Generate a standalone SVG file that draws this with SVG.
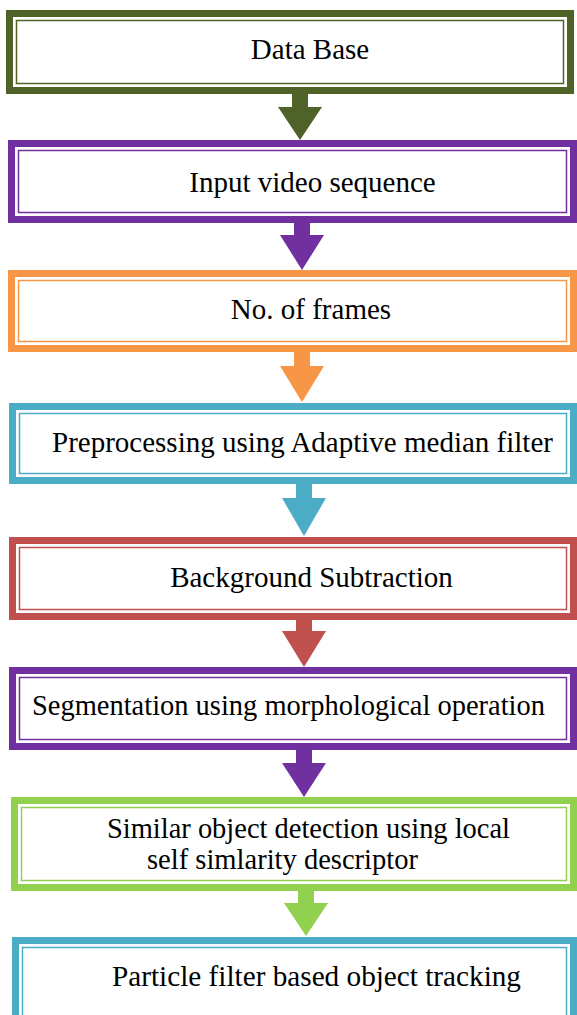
<svg xmlns="http://www.w3.org/2000/svg" width="577" height="1015" viewBox="0 0 577 1015">
  <style>
    .band { fill: none; stroke-width: 7; }
    .line { fill: #ffffff; stroke-width: 1.5; }
    .label { font-family: "Liberation Serif", "Times New Roman", serif; font-size: 29px; fill: #000000; }
    .olive { stroke: #4F6228; } .olive-f { fill: #4F6228; }
    .purple { stroke: #7030A0; } .purple-f { fill: #7030A0; }
    .orange { stroke: #F79646; } .orange-f { fill: #F79646; }
    .teal { stroke: #4BACC6; } .teal-f { fill: #4BACC6; }
    .red { stroke: #C0504D; } .red-f { fill: #C0504D; }
    .green { stroke: #92D050; } .green-f { fill: #92D050; }
  </style>
  <rect width="577" height="1015" fill="#ffffff"/>

  <!-- block arrows between the steps -->
  <g id="connectors">
    <polygon class="olive-f" points="292,94 308,94 308,107 322,107 300,140 278,107 292,107"/>
    <polygon class="purple-f" points="294,223 310,223 310,235 324,235 302,270 280,235 294,235"/>
    <polygon class="orange-f" points="294,352 310,352 310,366 324,366 302,402 280,366 294,366"/>
    <polygon class="teal-f" points="296,484 312,484 312,498 326,498 304,536 282,498 296,498"/>
    <polygon class="red-f" points="296,620 312,620 312,631 326,631 304,667 282,631 296,631"/>
    <polygon class="purple-f" points="296,750 312,750 312,763 326,763 304,797 282,763 296,763"/>
    <polygon class="green-f" points="298,891 314,891 314,903 328,903 306,936 284,903 298,903"/>
  </g>

  <g id="database">
    <rect class="line olive" x="16.5" y="20.5" width="547" height="63"/>
    <rect class="band olive" x="9.5" y="13.5" width="561" height="77"/>
    <text class="label" x="310" y="59" text-anchor="middle">Data Base</text>
  </g>

  <g id="input-video">
    <rect class="line purple" x="18.5" y="150.5" width="548" height="62"/>
    <rect class="band purple" x="11.5" y="143.5" width="562" height="76"/>
    <text class="label" x="312.5" y="192" text-anchor="middle">Input video sequence</text>
  </g>

  <g id="frames">
    <rect class="line orange" x="18.5" y="280.5" width="548" height="61"/>
    <rect class="band orange" x="11.5" y="273.5" width="562" height="75"/>
    <text class="label" x="311" y="319" text-anchor="middle">No. of frames</text>
  </g>

  <g id="preprocessing">
    <rect class="line teal" x="19.5" y="413.5" width="547" height="60"/>
    <rect class="band teal" x="12.5" y="406.5" width="561" height="74"/>
    <text class="label" x="52" y="452">Preprocessing using Adaptive median filter</text>
  </g>

  <g id="background">
    <rect class="line red" x="19.5" y="547.5" width="547" height="62"/>
    <rect class="band red" x="12.5" y="540.5" width="561" height="76"/>
    <text class="label" x="311.5" y="587" text-anchor="middle">Background Subtraction</text>
  </g>

  <g id="segmentation">
    <rect class="line purple" x="19.5" y="677.5" width="547" height="62"/>
    <rect class="band purple" x="12.5" y="670.5" width="561" height="76"/>
    <text class="label" x="32" y="715" textLength="513" lengthAdjust="spacingAndGlyphs">Segmentation using morphological operation</text>
  </g>

  <g id="detection">
    <rect class="line green" x="21.5" y="807.5" width="545" height="73"/>
    <rect class="band green" x="14.5" y="800.5" width="559" height="87"/>
    <text class="label" x="107" y="838" textLength="403" lengthAdjust="spacingAndGlyphs">Similar object detection using local</text>
    <text class="label" x="147" y="869" textLength="271" lengthAdjust="spacingAndGlyphs">self simlarity descriptor</text>
  </g>

  <g id="tracking">
    <rect class="line teal" x="22.5" y="947.5" width="544" height="80"/>
    <rect class="band teal" x="15.5" y="940.5" width="558" height="94"/>
    <text class="label" x="112" y="986" textLength="409" lengthAdjust="spacingAndGlyphs">Particle filter based object tracking</text>
  </g>
</svg>
